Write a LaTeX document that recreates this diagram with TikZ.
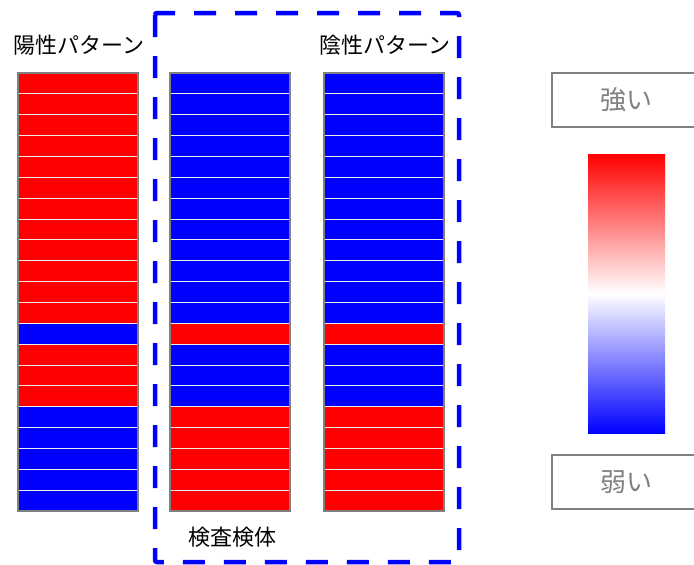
\documentclass[tikz,border=0pt]{standalone}
\usepackage{fontspec}
\setmainfont{Noto Sans CJK JP}
\usetikzlibrary{positioning}
\definecolor{posred}{RGB}{255,0,0}
\definecolor{negblue}{RGB}{0,0,255}
\definecolor{framegray}{RGB}{128,128,128}

\begin{document}
\begin{tikzpicture}[x=1pt,y=-1pt,
    title/.style={font=\fontsize{22pt}{26pt}\selectfont, inner sep=0pt},
    legendbox/.style={draw=framegray, line width=1.5pt, text=framegray,
      minimum width=148pt, minimum height=54pt,
      font=\fontsize{26pt}{30pt}\selectfont}
]
\useasboundingbox (0,0) rectangle (694,565);

% stripes of the three columns
\def\rh{20.857}
\foreach \xl/\pat in {
    18/{posred,posred,posred,posred,posred,posred,posred,posred,posred,posred,posred,posred,negblue,posred,posred,posred,negblue,negblue,negblue,negblue,negblue},
    170/{negblue,negblue,negblue,negblue,negblue,negblue,negblue,negblue,negblue,negblue,negblue,negblue,posred,negblue,negblue,negblue,posred,posred,posred,posred,posred},
    324/{negblue,negblue,negblue,negblue,negblue,negblue,negblue,negblue,negblue,negblue,negblue,negblue,posred,negblue,negblue,negblue,posred,posred,posred,posred,posred}}{
  \foreach \c [count=\i from 0] in \pat {
    \fill[\c] (\xl,73+\i*\rh) rectangle (\xl+120,73+\i*\rh+\rh);
    \ifnum\i>0
      \draw[white!85!framegray, line width=1pt] (\xl,73+\i*\rh) -- (\xl+120,73+\i*\rh);
    \fi
  }
  \draw[framegray, line width=2pt] (\xl,73) rectangle (\xl+120,511);
}

% sample frame
\draw[negblue, line width=4.5pt, dash pattern=on 22pt off 19pt, rounded corners=2pt]
  (155,13) rectangle (459,562);

\node[title] (poslabel) at (79,45) {陽性パターン};
\node[title] (neglabel) at (385,45) {陰性パターン};
\node[title] (samplelabel) at (232,537) {検査検体};

% legend
\node[legendbox] (strong) at (626,100) {強い};
\node[legendbox] (weak) at (626,482) {弱い};
\node[minimum width=77pt, minimum height=279pt, inner sep=0pt,
  top color=posred, bottom color=negblue, middle color=white]
  (bar) at (626.5,293.5) {};
\end{tikzpicture}
\end{document}
